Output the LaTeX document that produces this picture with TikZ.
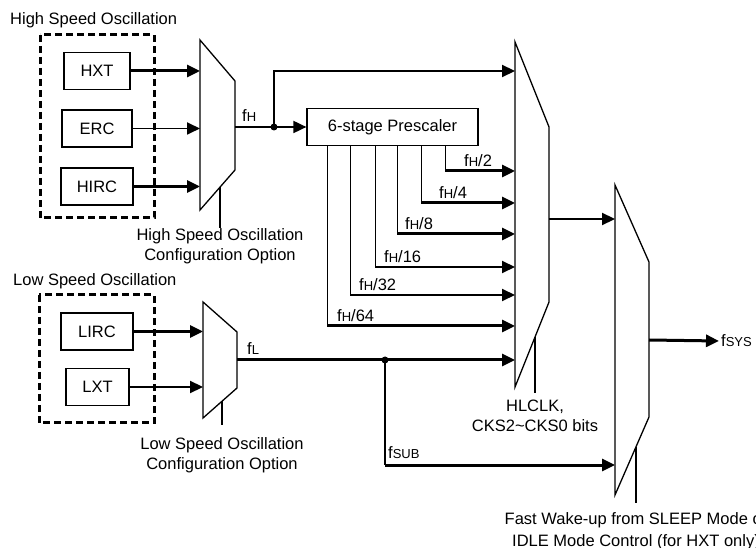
\documentclass[tikz,border=0pt]{standalone}
\usepackage{fontspec}
\setmainfont{Liberation Sans}
\usetikzlibrary{arrows.meta,positioning,calc}

\newcommand{\fq}[1]{f{\fontsize{13}{13}\selectfont #1}}

\tikzset{
  oscbox/.style={draw,line width=1.2pt,inner sep=0pt,minimum height=37pt},
  grpbox/.style={line width=3pt,dash pattern=on 7pt off 4pt},
  muxline/.style={line width=1.3pt,line join=miter},
  ctlline/.style={line width=1.4pt},
  sig/.style={-{Triangle[length=13pt,width=12pt]},line width=1.8pt},
  sigthick/.style={sig,line width=3pt},
  cfgtext/.style={align=center,inner sep=0pt,anchor=north},
  lab/.style={anchor=base west,inner sep=0pt},
}

\begin{document}
\begin{tikzpicture}[x=1pt,y=-1pt,font=\fontsize{16.5}{20}\selectfont]
  \useasboundingbox (0,0) rectangle (756,548);
  % selectors: name/left x/top/right x/right top/right bottom/bottom/output y
  \foreach \m/\xl/\yt/\xr/\ytr/\ybr/\yb/\yo in {hsm/200/40/235/81/170/210/127,
      lsm/203/302/237/332/388/418/360, hlm/515/42/549/127/302/387/219,
      sym/615/185/649/262/417/495/340} {
    \coordinate (\m-tl) at (\xl,\yt);
    \coordinate (\m-tr) at (\xr,\ytr);
    \coordinate (\m-br) at (\xr,\ybr);
    \coordinate (\m-bl) at (\xl,\yb);
    \coordinate (\m-out) at (\xr,\yo);
    \draw[muxline] (\m-tl) -- (\m-tr) -- (\m-br) -- (\m-bl) -- cycle;
  }

  % high speed oscillation
  \node[lab] (hstitle) at (10,25) {High Speed Oscillation};
  \draw[grpbox] (40,35) rectangle (154,218);
  \node[oscbox,minimum width=66pt] (hxt) at (97,71) {HXT};
  \node[oscbox,minimum width=70pt] (erc) at (97,128.5) {ERC};
  \node[oscbox,minimum width=72pt] (hirc) at (97,186.5) {HIRC};
  \draw[sigthick] (hxt.east) -- (hxt.east -| hsm-tl);
  \draw[sig] (erc.east) -- (erc.east -| hsm-tl);
  \draw[sigthick] (hirc.east) -- (hirc.east -| hsm-tl);
  \coordinate (hsm-ctl) at ($(hsm-br)!.43!(hsm-bl)$);
  \node[cfgtext] (hscfg) at (220,228) {High Speed Oscillation\\Configuration Option};
  \draw[ctlline] (hsm-ctl) -- (hsm-ctl |- hscfg.north);

  % fH and prescaler
  \node[draw,line width=1.2pt,minimum width=171pt,minimum height=37pt,inner sep=0pt] (pre) at (392.5,127) {6-stage Prescaler};
  \coordinate (fhj) at (274,127);
  \draw[line width=1.6pt] (hsm-out) -- (fhj);
  \node[lab] (fhlab) at (242,122) {\fq{H}};
  \draw[sig] (fhj) -- (pre.west);
  \draw[sig,line width=2.2pt] (fhj) |- (hlm-tl |- 0,71);
  \fill (fhj) circle (3.5pt);
  % prescaler taps: offset/arrow y/label x/divider/width
  \foreach \dx/\ty/\lx/\n/\lw in {139/171/464/2/3pt, 115/203/439/4/3pt,
      91/234/405/8/3pt, 69/267/384/16/2pt, 44/295/359/32/2pt, 21/326/337/64/3pt} {
    \path ([xshift=\dx pt]pre.south west) coordinate (top\n);
    \coordinate (tap\n) at (top\n |- 0,\ty);
    \draw[ctlline] (top\n) -- (tap\n);
    \draw[sig,line width=\lw] (tap\n) -- (hlm-tl |- tap\n);
    \node[lab] (div\n) at (\lx,\ty-4) {\fq{H}/\n};
  }

  % HLCLK selector
  \coordinate (hlm-ctl) at ($(hlm-br)!.41!(hlm-bl)$);
  \node[cfgtext,inner ysep=7pt] (hlcfg) at (535,393) {HLCLK,\\CKS2\textasciitilde CKS0 bits};
  \draw[ctlline] (hlm-ctl) -- (hlm-ctl |- hlcfg.north);
  \draw[sig,line width=2.2pt] (hlm-out) -- (sym-tl |- hlm-out);

  % low speed oscillation
  \node[lab] (lstitle) at (13,286) {Low Speed Oscillation};
  \draw[grpbox] (39,295) rectangle (154,423);
  \node[oscbox,minimum width=72pt] (lirc) at (97,331.5) {LIRC};
  \node[oscbox,minimum width=63pt] (lxt) at (97.5,387) {LXT};
  \draw[sigthick] (lirc.east) -- (lirc.east -| lsm-tl);
  \draw[sig,line width=2.2pt] (lxt.east) -- (lxt.east -| lsm-tl);
  \coordinate (lsm-ctl) at ($(lsm-br)!.44!(lsm-bl)$);
  \node[cfgtext,inner ysep=12pt] (lscfg) at (222,425) {Low Speed Oscillation\\Configuration Option};
  \draw[ctlline] (lsm-ctl) -- (lsm-ctl |- lscfg.north);

  % fL and fSUB
  \coordinate (flj) at (385,360);
  \draw[sigthick] (lsm-out) -- (hlm-tl |- lsm-out);
  \node[lab] (fllab) at (247,355) {\fq{L}};
  \draw[ctlline] (flj) -- (flj |- 0,465) coordinate (fsubc);
  \draw[sigthick] (fsubc) -- (sym-tl |- fsubc);
  \fill (flj) circle (3.5pt);
  \node[lab] (fsublab) at (388,458) {\fq{SUB}};

  % system clock selector
  \coordinate (sym-ctl) at ($(sym-br)!.38!(sym-bl)$);
  \node[cfgtext,inner ysep=9pt] (wkcfg) at (636,503) {Fast Wake-up from SLEEP Mode or\\[2pt]IDLE Mode Control (for HXT only)};
  \draw[ctlline] (sym-ctl) -- (sym-ctl |- wkcfg.north);
  \node[anchor=west,inner sep=2pt] (fsys) at (719,341) {\fq{SYS}};
  \draw[sigthick] (sym-out) -- (fsys.west);
\end{tikzpicture}
\end{document}
